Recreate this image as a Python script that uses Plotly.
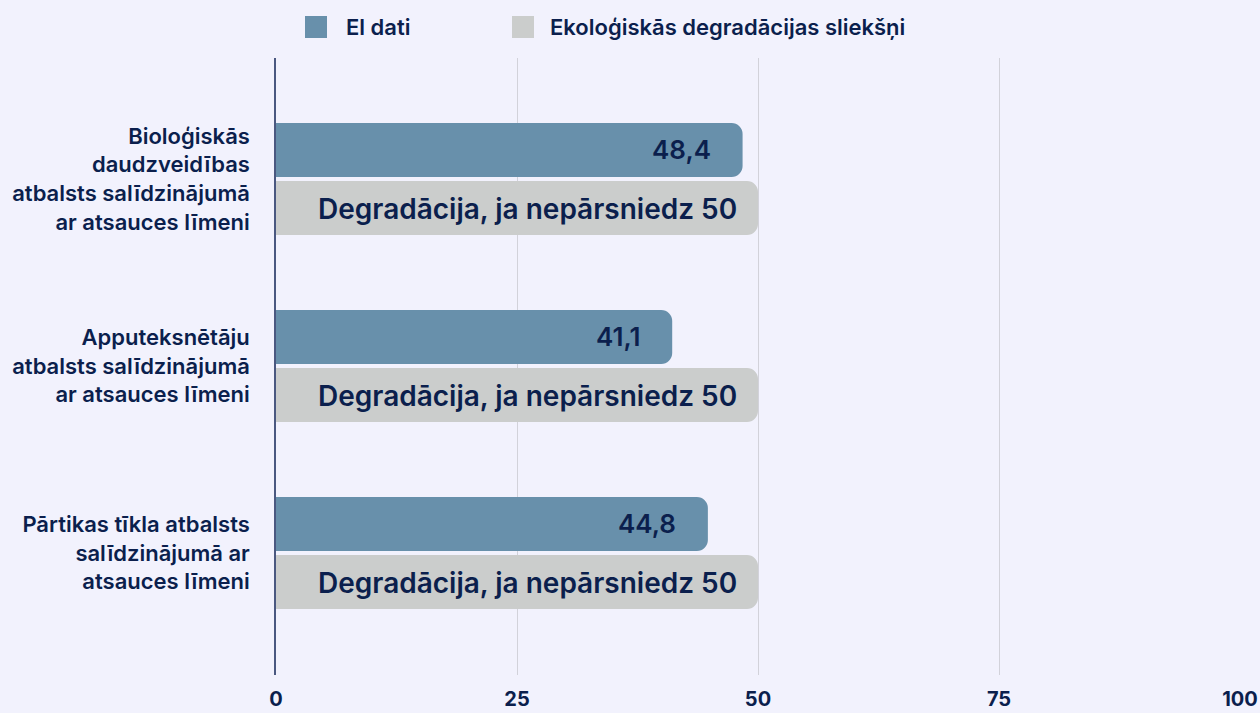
import plotly.graph_objects as go

categories = [
    "Bioloģiskās<br>daudzveidības<br>atbalsts salīdzinājumā<br>ar atsauces līmeni",
    "Apputeksnētāju<br>atbalsts salīdzinājumā<br>ar atsauces līmeni",
    "Pārtikas tīkla atbalsts<br>salīdzinājumā ar<br>atsauces līmeni",
]
eu_values = [48.4, 41.1, 44.8]
eu_labels = ["48,4", "41,1", "44,8"]
threshold_values = [50, 50, 50]
threshold_labels = ["Degradācija, ja nepārsniedz 50"] * 3
series_names = ["El dati", "Ekoloģiskās degradācijas sliekšņi"]
x_ticks = [0, 25, 50, 75, 100]

BG = "#f2f2fd"
BLUE = "#6890ab"
GRAY = "#cbcdcc"
NAVY = "#0b1f4d"
FONT = "Inter"

W, H = 1260, 713
ML, MR, MT, MB = 276, 20, 58, 38
PW, PH = W - ML - MR, H - MT - MB

fig = go.Figure()
fig.add_trace(go.Bar(
    y=categories, x=eu_values, orientation="h", name=series_names[0],
    marker=dict(color=BLUE, line=dict(width=0), cornerradius=11),
    showlegend=False, hoverinfo="x+y",
))
fig.add_trace(go.Bar(
    y=categories, x=threshold_values, orientation="h", name=series_names[1],
    marker=dict(color=GRAY, line=dict(width=0), cornerradius=11),
    showlegend=False, hoverinfo="x+y",
))

annotations = []
for cat, v, lab in zip(categories, eu_values, eu_labels):
    annotations.append(dict(x=v, y=cat, xref="x", yref="y", text=lab, showarrow=False,
                            xanchor="right", yanchor="middle", xshift=-30, yshift=30,
                            font=dict(family=FONT, size=26, color=NAVY, weight=600)))
for cat, v, lab in zip(categories, threshold_values, threshold_labels):
    annotations.append(dict(x=v, y=cat, xref="x", yref="y", text=lab, showarrow=False,
                            xanchor="right", yanchor="middle", xshift=-19, yshift=-30,
                            font=dict(family=FONT, size=28, color=NAVY, weight=600)))

def px_x(p):
    return (p - ML) / PW

def px_y(p):
    return 1 - (p - MT) / PH

shapes = []
legend_items = [(305, 344, BLUE, series_names[0]), (512, 548, GRAY, series_names[1])]
for sx, tx, col, name in legend_items:
    shapes.append(dict(type="rect", xref="paper", yref="paper",
                       x0=px_x(sx), x1=px_x(sx + 22), y0=px_y(38), y1=px_y(16),
                       fillcolor=col, line=dict(width=0)))
    annotations.append(dict(x=px_x(tx), y=px_y(27), xref="paper", yref="paper", text=name,
                            showarrow=False, xanchor="left", yanchor="middle",
                            font=dict(family=FONT, size=22, color=NAVY, weight=600)))

fig.update_layout(
    width=W, height=H,
    margin=dict(l=ML, r=MR, t=MT, b=MB, autoexpand=False),
    paper_bgcolor=BG, plot_bgcolor=BG,
    barmode="group", bargap=0.38, bargroupgap=0.07,
    showlegend=False,
    font=dict(family=FONT, color=NAVY),
    xaxis=dict(range=[0, 100], tickvals=x_ticks, ticktext=[str(t) for t in x_ticks],
               showgrid=True, gridcolor="#d2d2da", gridwidth=1, zeroline=False,
               showline=False, ticks="", ticklabelstandoff=10, automargin=False,
               tickfont=dict(family=FONT, size=20, color=NAVY, weight=700)),
    yaxis=dict(type="category", categoryarray=categories, range=[2.652, -0.647],
               showgrid=False, zeroline=False, showline=True, linecolor="#4a5880", linewidth=1.5,
               ticks="", ticklabelstandoff=20, automargin=False,
               tickfont=dict(family=FONT, size=22, color=NAVY, weight=600)),
    annotations=annotations, shapes=shapes,
)

fig.write_html("out.html", config={"displayModeBar": False},
               post_script="document.body.style.margin='0';document.body.style.overflow='hidden';")
